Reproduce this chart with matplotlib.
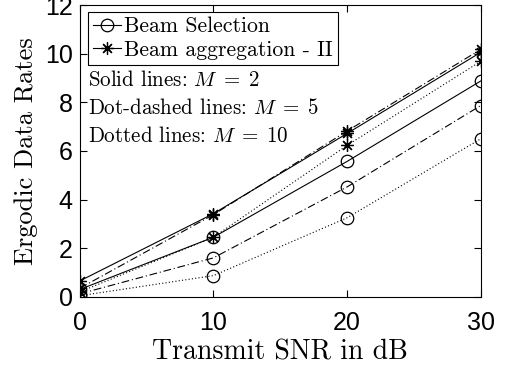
import matplotlib
matplotlib.use("Agg")
import matplotlib.pyplot as plt
from matplotlib.lines import Line2D

snr = [0, 10, 20, 30]
bs_m2 = [0.30, 2.45, 5.57, 8.88]
bs_m5 = [0.12, 1.60, 4.52, 7.87]
bs_m10 = [0.04, 0.87, 3.25, 6.50]
ba_m2 = [0.65, 3.42, 6.72, 10.06]
ba_m5 = [0.35, 3.38, 6.82, 10.18]
ba_m10 = [0.20, 2.45, 6.23, 9.69]

xticks = [0, 10, 20, 30]
yticks = [0, 2, 4, 6, 8, 10, 12]

plt.rcParams['mathtext.fontset'] = 'cm'
plt.rcParams['axes.unicode_minus'] = False

fig = plt.figure(figsize=(5.05, 3.70), dpi=100)
ax = fig.add_axes([0.158, 0.198, 0.794, 0.788])

lw = 0.8
ast = (8, 2, 0)
kw_c = dict(marker='o', markersize=9, markerfacecolor='none', markeredgecolor='k', markeredgewidth=0.9, color='k', lw=lw)
kw_s = dict(marker=ast, markersize=9, markeredgecolor='k', markeredgewidth=0.9, color='k', lw=lw)

ax.plot(snr, bs_m2, ls='-', **kw_c)
ax.plot(snr, bs_m5, ls=(0, (7, 2.5, 1, 2.5)), **kw_c)
ax.plot(snr, bs_m10, ls=(0, (1, 2)), **kw_c)
ax.plot(snr, ba_m2, ls='-', **kw_s)
ax.plot(snr, ba_m5, ls=(0, (7, 2.5, 1, 2.5)), **kw_s)
ax.plot(snr, ba_m10, ls=(0, (1, 2)), **kw_s)

ax.set_xlim(0, 30)
ax.set_ylim(0, 12)
ax.set_xticks(xticks)
ax.set_yticks(yticks)
ax.tick_params(direction='in', top=True, right=True, length=5, width=0.8, labelsize=18)
ax.tick_params(axis='x', pad=10)
ax.tick_params(axis='y', pad=5)
for lab in ax.get_xticklabels() + ax.get_yticklabels():
    lab.set_family('Liberation Sans')
for s in ax.spines.values():
    s.set_linewidth(0.8)

ax.set_xlabel('Transmit SNR in dB', family='cmr10', fontsize=20, labelpad=3)
ax.set_ylabel('Ergodic Data Rates', family='cmr10', fontsize=19, labelpad=5)

handles = [Line2D([], [], ls='-', **kw_c), Line2D([], [], ls='-', **kw_s)]
leg = ax.legend(handles, ['Beam Selection', 'Beam aggregation - II'],
                loc='upper left', bbox_to_anchor=(0.02, 0.977),
                prop={'family': 'cmr10', 'size': 15.7}, frameon=True, fancybox=False,
                edgecolor='k', framealpha=1, borderpad=0.22, handlelength=1.3,
                handletextpad=0.15, labelspacing=0.2, borderaxespad=0)
leg.get_frame().set_linewidth(0.8)

tkw = dict(transform=ax.transAxes, family='cmr10', fontsize=15.1, va='baseline', ha='left')
ax.text(0.02, 0.722, r'Solid lines: $M\;=\;2$', **tkw)
ax.text(0.02, 0.626, r'Dot-dashed lines: $M\;=\;5$', **tkw)
ax.text(0.02, 0.530, r'Dotted lines: $M\;=\;10$', **tkw)

fig.savefig('out.png', dpi=100)
